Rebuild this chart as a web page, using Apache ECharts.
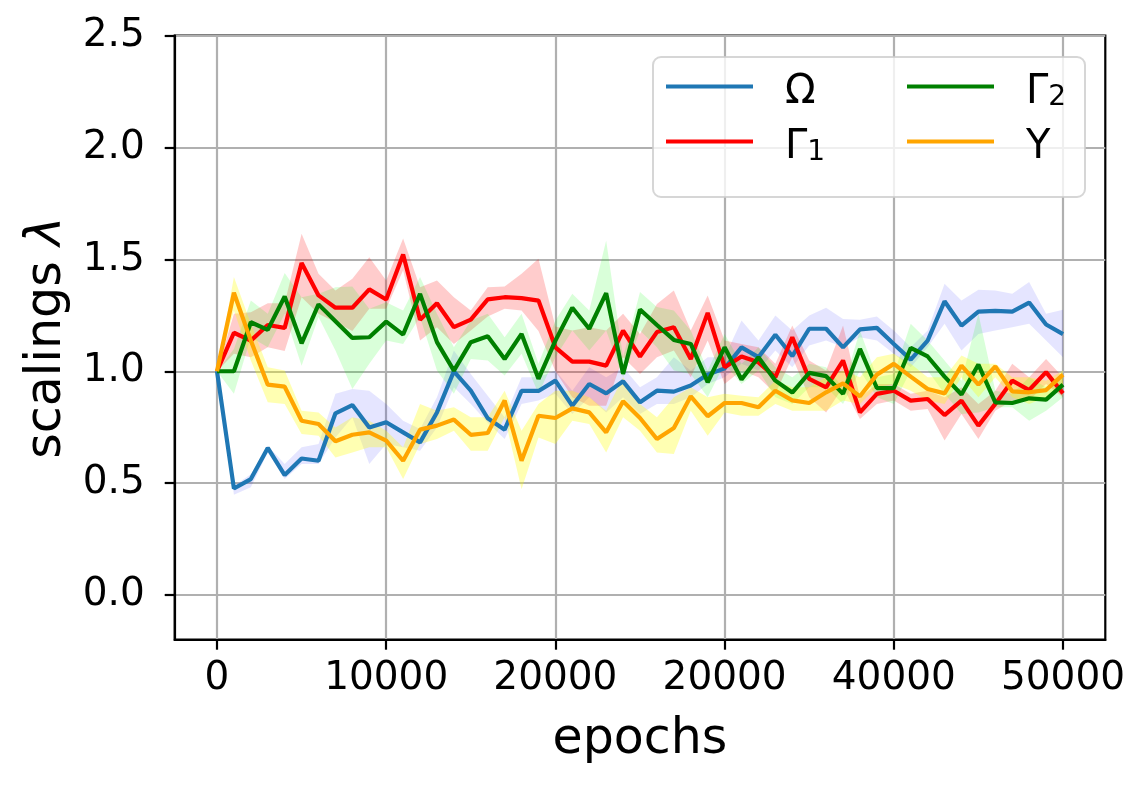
<!DOCTYPE html>
<html>
<head>
<meta charset="utf-8">
<script src="https://cdn.jsdelivr.net/npm/echarts@6/dist/echarts.min.js"></script>
<style>
html,body{margin:0;padding:0;background:#fff;}
#chart{width:1148px;height:786px;}
</style>
</head>
<body>
<div id="chart"></div>
<script>
const epochs = [0,1000,2000,3000,4000,5000,6000,7000,8000,9000,10000,11000,12000,13000,14000,15000,16000,17000,18000,19000,20000,21000,22000,23000,24000,25000,26000,27000,28000,29000,30000,31000,32000,33000,34000,35000,36000,37000,38000,39000,40000,41000,42000,43000,44000,45000,46000,47000,48000,49000,50000];

const omegaMean = [1.0,0.476,0.518,0.657,0.536,0.610,0.600,0.812,0.849,0.749,0.772,0.727,0.682,0.816,1.0,0.913,0.79,0.739,0.912,0.912,0.958,0.846,0.943,0.901,0.955,0.861,0.913,0.909,0.936,0.985,1.013,1.107,1.063,1.163,1.068,1.19,1.19,1.107,1.187,1.194,1.122,1.052,1.137,1.313,1.204,1.267,1.27,1.267,1.307,1.209,1.166];
const omegaLo = [1.0,0.448,0.481,0.637,0.518,0.585,0.585,0.704,0.794,0.585,0.675,0.66,0.645,0.749,0.928,0.854,0.77,0.697,0.854,0.869,0.899,0.809,0.884,0.816,0.884,0.809,0.854,0.854,0.884,0.943,0.973,1.033,1.003,1.093,1.018,1.115,1.137,1.107,1.152,1.137,1.078,1.018,1.107,1.212,1.093,1.167,1.182,1.197,1.212,1.137,1.063];
const omegaHi = [1.0,0.488,0.54,0.667,0.585,0.66,0.675,0.899,0.921,0.913,0.854,0.779,0.742,0.884,1.093,0.988,0.89,0.794,0.973,0.973,1.003,0.913,1.018,0.973,1.018,0.928,0.973,1.063,1.003,1.063,1.063,1.227,1.137,1.249,1.182,1.249,1.284,1.234,1.23,1.245,1.182,1.107,1.182,1.391,1.316,1.364,1.361,1.346,1.399,1.257,1.275];

const gamma1Mean = [1.0,1.172,1.137,1.207,1.194,1.484,1.339,1.284,1.284,1.366,1.321,1.522,1.23,1.304,1.197,1.231,1.321,1.331,1.327,1.316,1.107,1.043,1.043,1.025,1.182,1.066,1.175,1.197,1.055,1.261,1.018,1.066,1.04,0.973,1.152,0.966,0.928,1.048,0.816,0.899,0.913,0.869,0.876,0.804,0.869,0.757,0.854,0.958,0.916,0.996,0.901];
const gamma1Lo = [1.0,1.078,1.063,1.107,1.09,1.331,1.257,1.219,1.18,1.279,1.279,1.451,1.137,1.197,1.122,1.182,1.245,1.279,1.272,1.18,1.0,0.884,0.846,0.846,1.063,0.988,1.063,1.093,0.973,1.137,0.943,1.003,0.973,0.899,1.063,0.884,0.816,0.928,0.787,0.854,0.869,0.824,0.831,0.69,0.809,0.697,0.824,0.869,0.869,0.943,0.884];
const gamma1Hi = [1.0,1.257,1.264,1.304,1.304,1.615,1.436,1.361,1.413,1.51,1.406,1.593,1.376,1.406,1.331,1.272,1.375,1.379,1.436,1.503,1.2,1.182,1.197,1.182,1.257,1.167,1.301,1.361,1.182,1.339,1.137,1.122,1.107,1.033,1.204,1.048,1.003,1.204,0.884,0.943,0.943,0.899,0.913,0.884,0.928,0.854,0.913,1.033,0.973,1.055,0.973];

const gamma2Mean = [1.0,1.0,1.219,1.185,1.334,1.125,1.299,1.224,1.149,1.152,1.222,1.164,1.346,1.13,1.003,1.13,1.156,1.055,1.167,0.966,1.137,1.284,1.19,1.349,0.988,1.276,1.207,1.14,1.122,0.951,1.107,0.963,1.063,0.958,0.905,0.993,0.978,0.899,1.1,0.925,0.925,1.104,1.066,0.976,0.896,1.03,0.861,0.858,0.879,0.873,0.94];
const gamma2Lo = [1.0,0.899,1.152,1.107,1.257,1.025,1.242,1.093,0.921,1.033,1.137,1.122,1.242,1.003,0.899,1.055,1.048,0.981,1.078,0.899,1.063,1.182,1.093,1.182,0.973,1.182,1.107,1.003,0.988,0.884,1.033,0.943,1.003,0.884,0.854,0.928,0.928,0.854,1.003,0.884,0.854,1.003,1.003,0.899,0.809,0.816,0.839,0.839,0.779,0.824,0.884];
const gamma2Hi = [1.0,1.1,1.316,1.257,1.439,1.331,1.346,1.376,1.379,1.279,1.309,1.272,1.421,1.257,1.107,1.227,1.257,1.152,1.257,1.033,1.227,1.346,1.272,1.585,1.063,1.354,1.287,1.272,1.182,1.003,1.167,1.033,1.107,1.018,0.973,1.033,1.018,0.928,1.182,0.973,0.988,1.212,1.137,1.048,0.958,1.257,0.913,0.899,0.973,0.928,0.988];

const upsilonMean = [1.0,1.351,1.137,0.94,0.931,0.779,0.764,0.687,0.716,0.727,0.69,0.6,0.739,0.757,0.784,0.716,0.724,0.869,0.6,0.801,0.791,0.834,0.816,0.727,0.866,0.791,0.697,0.746,0.888,0.799,0.858,0.858,0.839,0.913,0.87,0.858,0.906,0.946,0.888,0.985,1.033,0.976,0.921,0.901,1.025,0.94,1.022,0.91,0.906,0.916,0.985];
const upsilonLo = [1.0,1.272,1.048,0.861,0.854,0.719,0.712,0.615,0.637,0.66,0.66,0.518,0.675,0.697,0.734,0.645,0.645,0.794,0.473,0.704,0.675,0.779,0.764,0.637,0.794,0.734,0.637,0.63,0.824,0.712,0.816,0.801,0.801,0.854,0.824,0.824,0.824,0.869,0.854,0.928,0.943,0.913,0.869,0.854,0.973,0.884,0.973,0.884,0.854,0.884,0.943];
const upsilonHi = [1.0,1.421,1.212,1.018,1.003,0.824,0.816,0.749,0.794,0.779,0.734,0.66,0.854,0.824,0.839,0.794,0.794,0.913,0.734,0.854,0.913,0.913,0.884,0.824,0.973,0.854,0.794,0.884,0.928,0.884,0.899,0.891,0.884,0.958,0.928,0.928,0.973,1.003,0.973,1.063,1.078,1.033,0.973,0.973,1.07,1.033,1.033,0.973,0.973,0.958,1.003];

const seriesNames = ['Ω','Γ1','Γ2','Υ'];
const xTickValues = [0,10000,20000,30000,40000,50000];
const xTickLabels = ['0','10000','20000','20000','40000','50000'];
const yTickValues = [0,0.5,1.0,1.5,2.0,2.5];
const xAxisTitle = 'epochs';
const yAxisTitle = 'scalings';
const yAxisSymbol = 'λ';

const FONT = 'DejaVu Sans';
const lineColors = ['#1f77b4','#ff0000','#008000','#ffa500'];
const bandColors = ['rgba(0,0,255,0.1)','rgba(255,0,0,0.2)','rgba(0,255,0,0.15)','rgba(255,255,0,0.3)'];
const means = [omegaMean,gamma1Mean,gamma2Mean,upsilonMean];
const los = [omegaLo,gamma1Lo,gamma2Lo,upsilonLo];
const his = [omegaHi,gamma1Hi,gamma2Hi,upsilonHi];

const legendRich = {
  '\u03a9': '{m|\u03a9}',
  '\u03931': '{m|\u0393}{s|1}',
  '\u03932': '{m|\u0393}{s|2}',
  '\u03a5': '{m|\u03a5}'
};

const chart = echarts.init(document.getElementById('chart'), null, {renderer:'canvas'});

const bandSeries = seriesNames.map((name, k) => ({
  type: 'custom',
  name: name + ' band',
  z: 1,
  silent: true,
  data: epochs.map((x, i) => [x, los[k][i], his[k][i]]),
  encode: {x: 0, y: [1, 2]},
  renderItem: function (params, api) {
    if (params.dataIndex !== 0) return null;
    const pts = [];
    for (let i = 0; i < epochs.length; i++) pts.push(api.coord([epochs[i], his[k][i]]));
    for (let i = epochs.length - 1; i >= 0; i--) pts.push(api.coord([epochs[i], los[k][i]]));
    return {type: 'polygon', shape: {points: pts}, style: {fill: bandColors[k], stroke: null}};
  }
}));

const lineSeries = seriesNames.map((name, k) => ({
  type: 'line',
  name: name,
  z: 3,
  showSymbol: false,
  symbol: 'none',
  silent: true,
  animation: false,
  data: epochs.map((x, i) => [x, means[k][i]]),
  lineStyle: {color: lineColors[k], width: 4.2},
  itemStyle: {color: lineColors[k]}
}));

const legendCommon = {
  orient: 'vertical',
  top: 63,
  padding: 0,
  itemWidth: 87,
  itemHeight: 4,
  itemGap: 5,
  icon: 'rect',
  selectedMode: false,
  z: 10,
  formatter: name => legendRich[name],
  textStyle: {
    color: '#000',
    fontFamily: FONT,
    rich: {
      m: {fontSize: 40, fontFamily: FONT, color: '#000', lineHeight: 47, verticalAlign: 'top', padding: [10, 0, 0, 27]},
      s: {fontSize: 28, fontFamily: FONT, color: '#000', lineHeight: 14, verticalAlign: 'top', padding: [21, 0, 0, 0]}
    }
  }
};

const option = {
  animation: false,
  backgroundColor: '#fff',
  grid: {left: 174.7, right: 42.7, top: 35.7, bottom: 146.3, show: true, borderColor: '#000', borderWidth: 2.2, backgroundColor: 'transparent', containLabel: false},
  graphic: [{
    type: 'rect', z: 9, left: 652, top: 56,
    shape: {width: 432, height: 140, r: 8},
    style: {fill: 'rgba(255,255,255,0.8)', stroke: 'rgba(204,204,204,0.8)', lineWidth: 2}
  }],
  legend: [
    Object.assign({}, legendCommon, {left: 666, data: [seriesNames[0], seriesNames[1]]}),
    Object.assign({}, legendCommon, {left: 907, data: [seriesNames[2], seriesNames[3]]})
  ],
  xAxis: {
    type: 'value', min: -2500, max: 52500,
    axisLine: {show: true, onZero: false, lineStyle: {color: '#000', width: 2.2}},
    axisTick: {show: true, inside: false, length: 10, lineStyle: {color: '#000', width: 2.2}, customValues: xTickValues},
    axisLabel: {customValues: xTickValues, margin: 20, fontSize: 39, fontFamily: FONT, color: '#000',
      formatter: v => xTickLabels[xTickValues.indexOf(v)]},
    splitLine: {show: true, lineStyle: {color: '#b0b0b0', width: 2.2}},
    name: xAxisTitle, nameLocation: 'middle', nameGap: 76,
    nameTextStyle: {fontSize: 49, fontFamily: FONT, color: '#000'}
  },
  yAxis: {
    type: 'value', min: -0.2, max: 2.5,
    axisLine: {show: true, onZero: false, lineStyle: {color: '#000', width: 2.2}},
    axisTick: {show: true, inside: false, length: 10, lineStyle: {color: '#000', width: 2.2}, customValues: yTickValues},
    axisLabel: {customValues: yTickValues, margin: 30, fontSize: 39, fontFamily: FONT, color: '#000',
      formatter: v => v.toFixed(1)},
    splitLine: {show: true, lineStyle: {color: '#b0b0b0', width: 2.2}},
    name: '{a|' + yAxisTitle + ' }{b|' + yAxisSymbol + '}', nameLocation: 'middle', nameGap: 100,
    nameTextStyle: {fontSize: 49, fontFamily: FONT, color: '#000',
      rich: {a: {fontSize: 49, fontFamily: FONT, color: '#000'}, b: {fontSize: 49, fontFamily: FONT, fontStyle: 'italic', color: '#000'}}}
  },
  series: bandSeries.concat(lineSeries)
};
chart.setOption(option);
</script>
</body>
</html>
